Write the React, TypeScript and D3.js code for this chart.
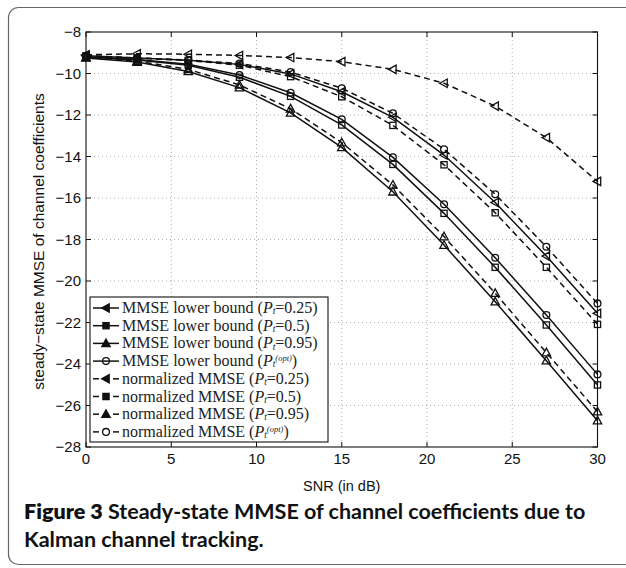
import React from 'react';
import * as d3 from 'd3';

// SNR grid (dB) and steady-state MMSE curves (dB)
const snrDb = [0, 3, 6, 9, 12, 15, 18, 21, 24, 27, 30];

const lbP025 = [-9.15, -9.25, -9.36, -9.56, -10.02, -10.88, -12.11, -13.93, -16.22, -18.8, -21.56];
const lbP05 = [-9.2, -9.35, -9.6, -10.18, -11.1, -12.48, -14.38, -16.74, -19.34, -22.12, -25.01];
const lbP095 = [-9.25, -9.45, -9.9, -10.68, -11.9, -13.56, -15.7, -18.27, -21.0, -23.84, -26.73];
const lbOpt = [-9.2, -9.32, -9.55, -10.07, -10.93, -12.21, -14.04, -16.3, -18.88, -21.64, -24.5];
const nmP025 = [-9.1, -9.05, -9.07, -9.13, -9.23, -9.43, -9.8, -10.47, -11.57, -13.09, -15.2];
const nmP05 = [-9.15, -9.26, -9.37, -9.6, -10.15, -11.12, -12.5, -14.4, -16.71, -19.34, -22.09];
const nmP095 = [-9.22, -9.4, -9.8, -10.55, -11.7, -13.33, -15.37, -17.86, -20.59, -23.45, -26.3];
const nmOpt = [-9.15, -9.25, -9.35, -9.52, -9.93, -10.71, -11.92, -13.65, -15.82, -18.35, -21.08];

const xTicks = [0, 5, 10, 15, 20, 25, 30];
const yTicks = [-8, -10, -12, -14, -16, -18, -20, -22, -24, -26, -28];

const seriesNames = ['MMSE lower bound', 'MMSE lower bound', 'MMSE lower bound', 'MMSE lower bound',
  'normalized MMSE', 'normalized MMSE', 'normalized MMSE', 'normalized MMSE'];
const seriesPt = ['0.25', '0.5', '0.95', 'opt', '0.25', '0.5', '0.95', 'opt'];
const seriesMarker = ['left', 'square', 'up', 'circle', 'left', 'square', 'up', 'circle'];
const seriesDashed = [false, false, false, false, true, true, true, true];
const seriesValues = [lbP025, lbP05, lbP095, lbOpt, nmP025, nmP05, nmP095, nmOpt];

const W = 626;
const H = 568;
const plot = { left: 86, right: 597.5, top: 32, bottom: 447 };

const x = d3.scaleLinear().domain([0, 30]).range([plot.left, plot.right]);
const y = d3.scaleLinear().domain([-28, -8]).range([plot.bottom, plot.top]);

const minus = (v: number) => (v < 0 ? '\u2212' + Math.abs(v) : String(v));

function Marker({ kind, cx, cy, filled = false }: { kind: string; cx: number; cy: number; filled?: boolean }) {
  const s = 3.8;
  const common = { fill: filled ? '#111' : 'none', stroke: '#111', strokeWidth: 1.3 };
  if (kind === 'circle') return <circle cx={cx} cy={cy} r={3.4} {...common} fill="none" />;
  if (kind === 'square') return <rect x={cx - 3.1} y={cy - 3.1} width={6.2} height={6.2} {...common} />;
  if (kind === 'up')
    return <path d={`M${cx},${cy - s - 0.6}L${cx + s + 0.4},${cy + s - 0.6}L${cx - s - 0.4},${cy + s - 0.6}Z`} {...common} />;
  return <path d={`M${cx - s - 0.6},${cy}L${cx + s - 0.6},${cy - s - 0.4}L${cx + s - 0.6},${cy + s + 0.4}Z`} {...common} />;
}

function PtLabel({ name, pt }: { name: string; pt: string }) {
  const opt = pt === 'opt';
  return (
    <>
      {name + ' ('}
      <tspan fontStyle="italic">P</tspan>
      <tspan fontStyle="italic" fontSize={9.5} dy={1.2}>t</tspan>
      {opt ? (
        <>
          <tspan fontStyle="italic" fontSize={8.5} dy={-6.5}>(opt)</tspan>
          <tspan dy={5.3}>)</tspan>
        </>
      ) : (
        <tspan dy={-1.2}>{'=' + pt + ')'}</tspan>
      )}
    </>
  );
}

export default function App() {
  const line = d3.line<number>().x((_, i) => x(snrDb[i])).y(d => y(d));

  const legend = { x: 90, y: 297, w: 238, h: 145, row: 17.7 };

  return (
    <svg width={W} height={H} style={{ position: 'absolute', left: 0, top: 0, background: '#fff' }}>
      <rect x={8.5} y={7.5} width={660} height={557} rx={10} fill="#fff" stroke="#666" strokeWidth={1.2} />

      {/* grid */}
      <g stroke="#9a9a9a" strokeWidth={0.8} strokeDasharray="1,3">
        {xTicks.slice(1, -1).map(t => (
          <line key={'gx' + t} x1={x(t)} x2={x(t)} y1={plot.top} y2={plot.bottom} />
        ))}
        {yTicks.slice(1, -1).map(t => (
          <line key={'gy' + t} x1={plot.left} x2={plot.right} y1={y(t)} y2={y(t)} />
        ))}
      </g>

      {/* frame and inward ticks */}
      <rect x={plot.left} y={plot.top} width={plot.right - plot.left} height={plot.bottom - plot.top}
        fill="none" stroke="#111" strokeWidth={1.1} />
      <g stroke="#111" strokeWidth={1}>
        {xTicks.map(t => (
          <g key={'tx' + t}>
            <line x1={x(t)} x2={x(t)} y1={plot.bottom} y2={plot.bottom - 5} />
            <line x1={x(t)} x2={x(t)} y1={plot.top} y2={plot.top + 5} />
          </g>
        ))}
        {yTicks.map(t => (
          <g key={'ty' + t}>
            <line x1={plot.left} x2={plot.left + 5} y1={y(t)} y2={y(t)} />
            <line x1={plot.right} x2={plot.right - 5} y1={y(t)} y2={y(t)} />
          </g>
        ))}
      </g>

      <g fontFamily="'Liberation Sans', Arial, sans-serif" fontSize={15} fill="#111">
        {xTicks.map(t => (
          <text key={'lx' + t} x={x(t)} y={plot.bottom + 17} textAnchor="middle">{t}</text>
        ))}
        {yTicks.map(t => (
          <text key={'ly' + t} x={plot.left - 5} y={y(t) + 5} textAnchor="end">{minus(t)}</text>
        ))}
        <text x={(plot.left + plot.right) / 2} y={491} textAnchor="middle" fontSize={14.5}>SNR (in dB)</text>
        <text transform={`translate(44,${(plot.top + plot.bottom) / 2 + 2}) rotate(-90)`} textAnchor="middle" fontSize={15.5}>
          steady{'\u2212'}state MMSE of channel coefficients
        </text>
      </g>

      {/* curves */}
      {seriesValues.map((vals, k) => (
        <g key={'s' + k}>
          <path d={line(vals) || ''} fill="none" stroke="#111" strokeWidth={1.5}
            strokeDasharray={seriesDashed[k] ? '6,4' : undefined} />
          {vals.map((v, i) => (
            <Marker key={i} kind={seriesMarker[k]} cx={x(snrDb[i])} cy={y(v)} />
          ))}
        </g>
      ))}

      {/* legend */}
      <rect x={legend.x} y={legend.y} width={legend.w} height={legend.h} fill="#fff" stroke="#111" strokeWidth={1.1} />
      {seriesNames.map((name, k) => {
        const ry = legend.y + 11 + k * legend.row;
        return (
          <g key={'lg' + k}>
            {seriesDashed[k] ? (
              <>
                <line x1={93} x2={99} y1={ry} y2={ry} stroke="#111" strokeWidth={1.5} />
                <line x1={113} x2={119} y1={ry} y2={ry} stroke="#111" strokeWidth={1.5} />
              </>
            ) : (
              <line x1={93} x2={119} y1={ry} y2={ry} stroke="#111" strokeWidth={1.5} />
            )}
            <Marker kind={seriesMarker[k]} cx={106} cy={ry} filled />
            <text x={122} y={ry + 5} fontFamily="'Liberation Serif', 'Times New Roman', serif" fontSize={16} fill="#222">
              <PtLabel name={name} pt={seriesPt[k]} />
            </text>
          </g>
        );
      })}

      {/* caption */}
      <g fontFamily="Lato, 'Open Sans', sans-serif" fontSize={21.5} fill="#111">
        <text x={24} y={519}>
          <tspan fontWeight={800}>Figure 3</tspan>
          <tspan fontWeight={700}> Steady-state MMSE of channel coefficients due to</tspan>
        </text>
        <text x={24} y={547} fontWeight={700}>Kalman channel tracking.</text>
      </g>
    </svg>
  );
}
